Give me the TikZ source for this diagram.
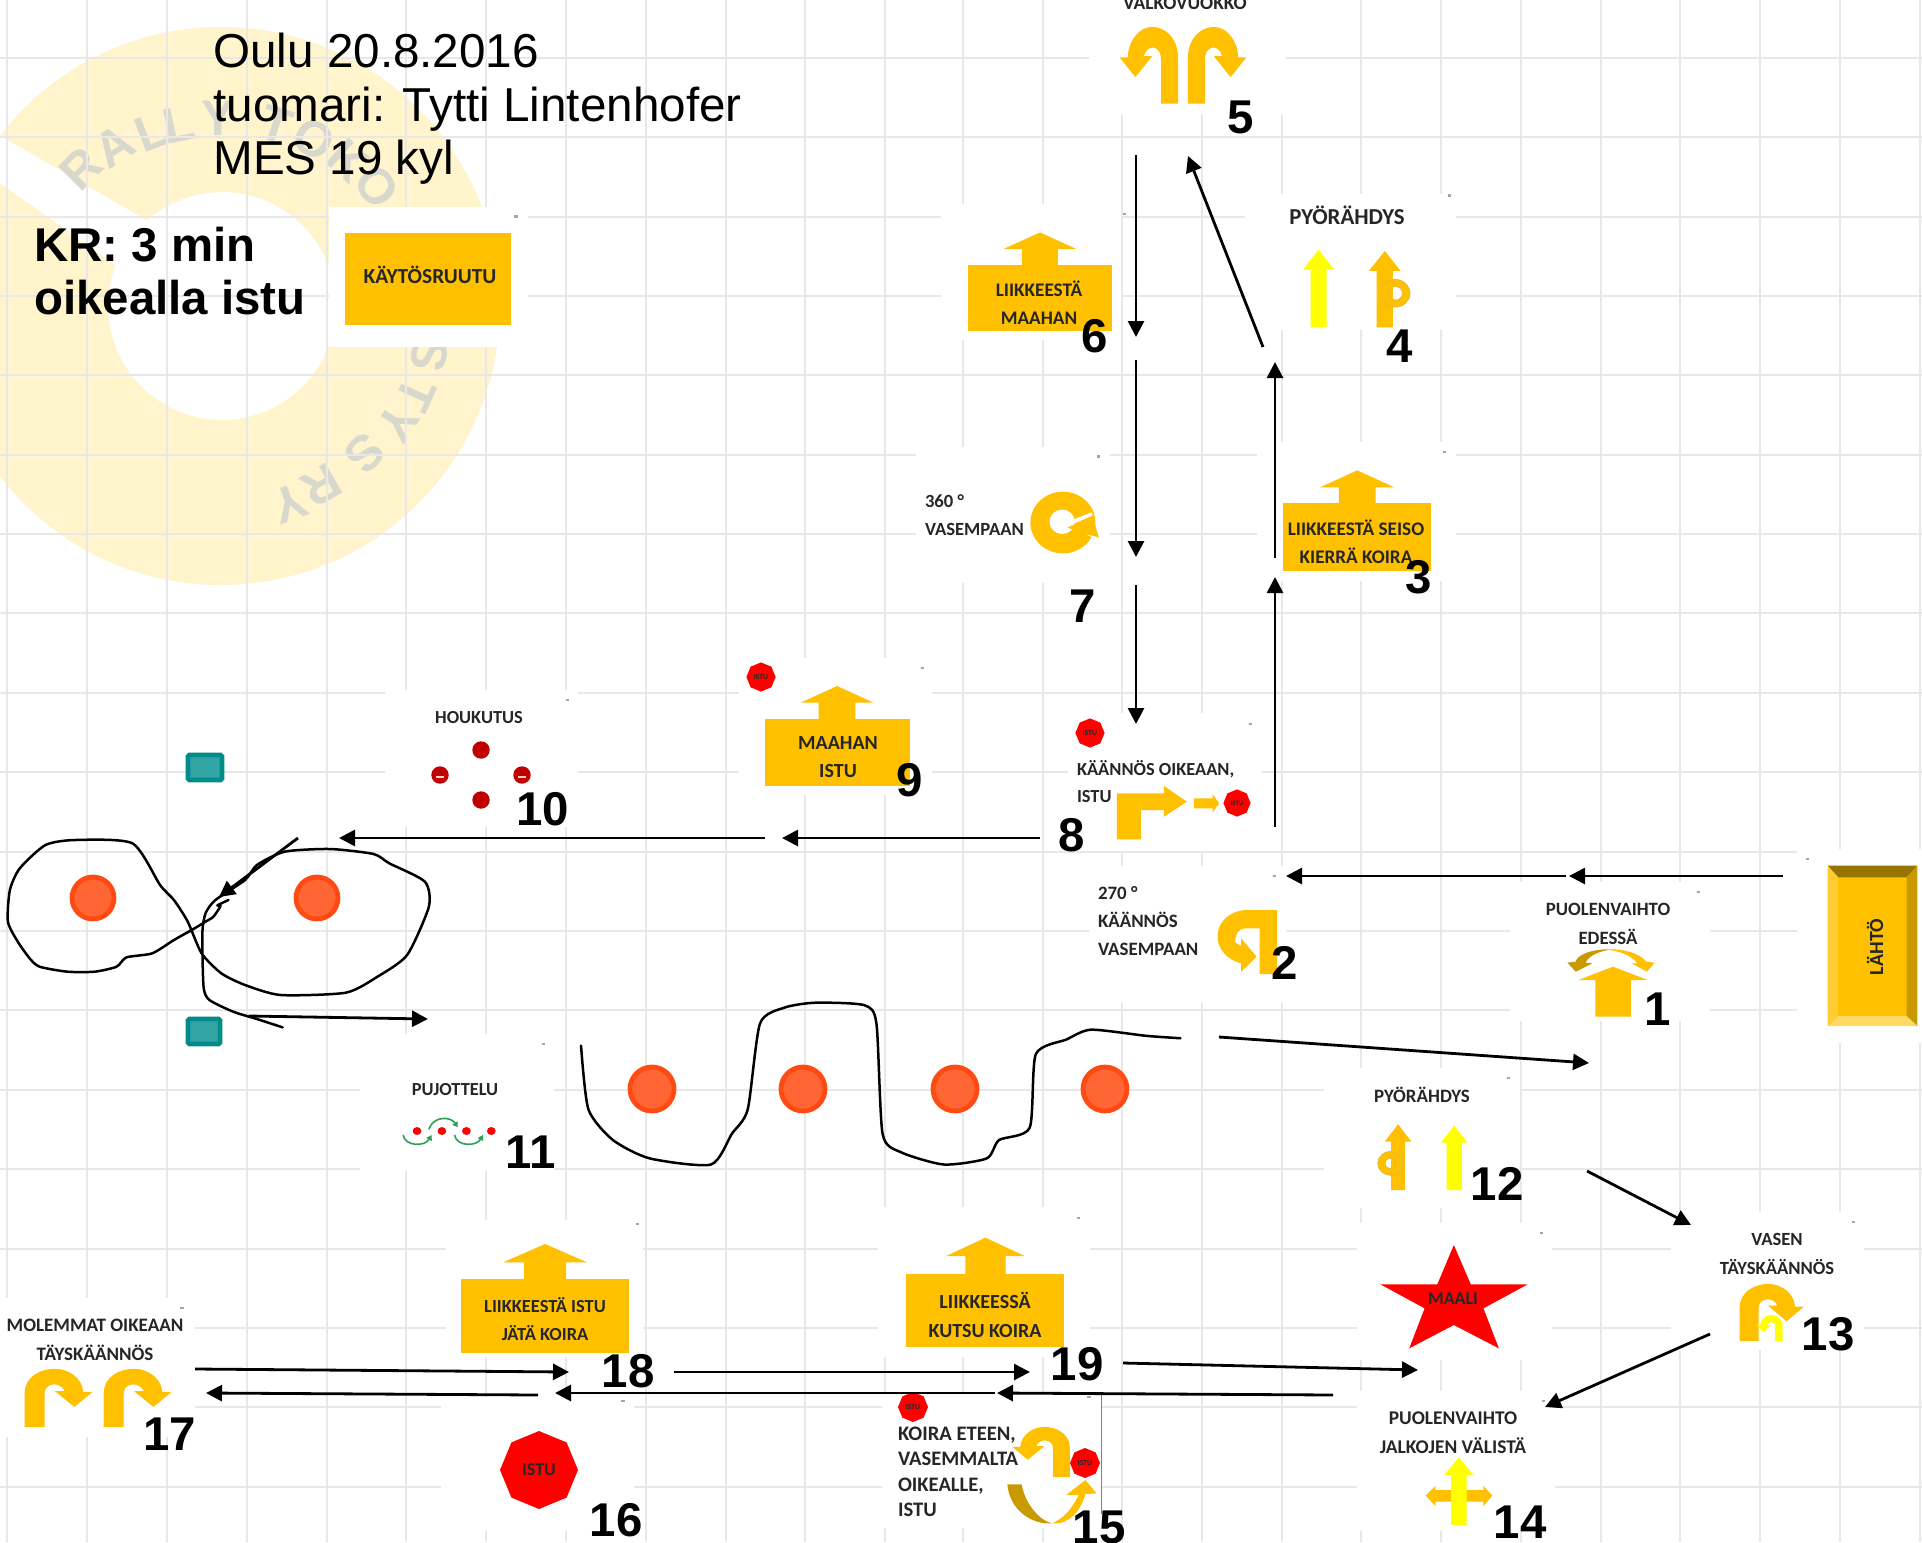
\documentclass[tikz,border=0pt]{standalone}
\usepackage{fontspec}
\setmainfont{Liberation Sans}
\newfontfamily\carlito{Carlito}
\usetikzlibrary{arrows.meta,shapes.geometric}
\definecolor{gold}{HTML}{FFC000}
\definecolor{darkgold}{HTML}{C99A00}
\definecolor{signyellow}{HTML}{FFFF00}
\definecolor{logoyellow}{HTML}{FFF4CC}
\definecolor{logoletter}{HTML}{D8D8CC}
\definecolor{gridgray}{HTML}{E8E8E8}
\definecolor{signtext}{HTML}{262626}
\definecolor{conefill}{HTML}{FF6633}
\definecolor{coneedge}{HTML}{FF4A14}
\definecolor{tealfill}{HTML}{33A5A5}
\definecolor{tealedge}{HTML}{008B8B}
\definecolor{dotred}{HTML}{C00000}
\definecolor{weavegreen}{HTML}{2E9E5B}
\newcommand{\sgf}[2]{\carlito\bfseries\fontsize{#1}{#2}\selectfont}
\tikzset{
  zA/.style={x=0.25510pt,y=-0.19763pt},
  zB/.style={x=0.19135pt,y=-0.19763pt,shift={(440pt,0pt)}},
  zC/.style={x=0.19135pt,y=-0.16667pt,shift={(360pt,-310pt)}},
  zD/.style={x=0.19231pt,y=-0.16667pt,shift={(660pt,-410pt)}},
  zE/.style={x=0.19763pt,y=-0.16667pt,shift={(0pt,-350pt)}},
  zF/.style={x=0.22321pt,y=-0.16667pt,shift={(430pt,-600pt)}},
  zG/.style={x=0.22321pt,y=-0.16667pt,shift={(0pt,-600pt)}},
  zH/.style={x=0.19231pt,y=-0.16667pt,shift={(660pt,-600pt)}},
  panel/.style={fill=white,draw=none},
  lbl/.style={text=signtext,inner sep=0pt,outer sep=0pt,align=center},
  lblleft/.style={text=signtext,inner sep=0pt,outer sep=0pt,align=left,anchor=west},
  numlbl/.style={font=\bfseries\fontsize{23.7}{26}\selectfont,text=black,inner sep=0pt,outer sep=0pt},
  stopsign/.style={regular polygon,regular polygon sides=8,shape border rotate=22.5,fill=red,draw=none,
     inner sep=0pt,outer sep=0pt,text=signtext,align=center},
  conn/.style={line width=1.4pt,draw=black,-{Triangle[length=8pt,width=8pt]}},
  hand/.style={line width=1.25pt,draw=black,line join=round,line cap=round},
  cone/.style={circle,fill=conefill,draw=coneedge,line width=2.4pt,minimum size=21pt,inner sep=0pt},
  tealmark/.style={fill=tealfill,draw=tealedge,line width=2.4pt,rounded corners=0.8pt},
  ringshape/.style={fill=gold,draw=darkgold!70,line width=0.3pt,even odd rule},
}
% connector between two named free ends
\newcommand{\conn}[5]{\coordinate (#1s) at (#2,#3); \coordinate (#1e) at (#4,#5); \draw[conn] (#1s) -- (#1e);}
% up arrow: cx, bottom, apex, headbase, halfstem, halfhead, colour
\newcommand{\UpArr}[7]{\fill[#7] ({#1-#5},#2) -- ({#1+#5},#2) -- ({#1+#5},#4) -- ({#1+#6},#4) -- (#1,#3) -- ({#1-#6},#4) -- ({#1-#5},#4) -- cycle;}
% U-turn arrow: base x, base y, x-unit, y-unit, colour
\newcommand{\UTurn}[5]{\begin{scope}[shift={(#1,#2)},x=#3pt,y=#4pt]
 \fill[#5] (45,0) -- (45,112) .. controls (45,167) and (10,194) .. (-23,194) .. controls (-55,194) and (-85,162) .. (-87,117)
 -- (-108,117) -- (-67,67) -- (-23,120) -- (-45,120) .. controls (-40,137) and (-30,142) .. (-20,142) .. controls (-5,140) and (0,125) .. (0,112) -- (0,0) -- cycle;
 \end{scope}}
\newcommand{\tick}[2]{\fill[gray!70] ({#1-4},{#2-3}) rectangle ({#1+4},{#2+3});}
\begin{document}
\begin{tikzpicture}[x=0.5pt,y=-0.5pt]
\path[use as bounding box] (0,0) rectangle (1922,1542);
\clip (0,0) rectangle (1922,1542);
\fill[white] (0,0) rectangle (1922,1542);
% ---- logo watermark
\fill[logoyellow,even odd rule] (221,306) circle[radius=279] (222,306) circle[radius=114];
\fill[white] (-10,130) -- (172,235) -- (125,272) -- (-10,176) -- cycle;
\foreach \ch/\la/\nm/\lr in {R/135/a/194,A/123/b/190,L/111/c/186,L/102/d/186,Y/90/e/188,T/72/f/190,O/60/g/192,K/48/h/195,O/37/i/199,S/-13/j/217,T/-24/k/217,Y/-33/l/215,S/-45/m/208,R/-60/n/207,Y/-70/o/210}
  \node[name=logo\nm,font=\bfseries\fontsize{25}{27}\selectfont,text=logoletter,inner sep=0pt,rotate=\la-90]
     at ({218+\lr*cos(\la)},{306-\lr*sin(\la)}) {\ch};
% ---- grid
\foreach \gx in {7,87,167,247,327,406,486,566,646,726,805,885,963,1043,1122,1202,1282,1361,1441,1521,1601,1680,1760,1840,1920}
  \draw[gridgray,line width=1.3pt] (\gx,0) -- (\gx,1542);
\foreach \gy in {58,137,217,296,375,455,534,613,693,772,852,931,1010,1090,1169,1249,1328,1407,1487}
  \draw[gridgray,line width=1.3pt] (0,\gy) -- (1922,\gy);
% ---- white panels
\foreach \xa/\ya/\xb/\yb in {329/207/528/347,1089/0/1286/115,941/204/1121/340,1245/194/1456/330,1257/442/1456/581,
   916/447/1110/583,1068/713/1262/851,1089/866/1286/1003,739/658/932/795,385/690/578/827,360/1034/554/1171,
   1510/882/1710/1021,1797/849/1922/1043,1324/1068/1520/1208,1671/1212/1864/1350,1357/1223/1552/1360,
   1357/1391/1555/1531,878/1207/1090/1357,882/1392/1101/1528,446/1220/643/1357,441/1397/634/1531,0/1298/195/1437}
  \fill[panel] (\xa,\ya) rectangle (\xb,\yb);
\draw[gray,line width=0.3pt] (1101,1392) -- (1101,1514);
% ---- title texts
\node[anchor=north west,inner sep=0pt,align=left,font=\fontsize{23.8}{26.75}\selectfont] (title) at (213,33)
   {Oulu 20.8.2016\\tuomari: Tytti Lintenhofer\\MES 19 kyl};
\node[anchor=north west,inner sep=0pt,align=left,font=\bfseries\fontsize{23.7}{26.5}\selectfont] (kr) at (34,227)
   {KR: 3 min\\oikealla istu};
% ---- KAYTOSRUUTU
\fill[gold] (345,233) rectangle (511,325);
\node[lbl,font=\sgf{10.7}{13}] (kaytos) at (430,275) {KÄYTÖSRUUTU};
\fill[gray!70] (514,215) rectangle (518,218);
% ---- sign 5
\node[lbl,font=\sgf{9.7}{12}] (s5t) at (1185,3) {VALKOVUOKKO};
\UTurn{1161}{103.6}{0.19135}{0.19763}{gold}
\UTurn{1205}{103.6}{-0.19135}{0.19763}{gold}
% ---- scope B signs: 6,4,3,7
\begin{scope}[zB]
 \UpArr{418}{670}{588}{630}{47}{95}{gold}
 \fill[gold] (230,670) rectangle (606,838);
 \UpArr{1146}{828}{632}{682}{21}{41}{signyellow}
 \UpArr{1319}{828}{635}{685}{21}{41}{gold}
 \path[ringshape] (1347,742) ellipse[x radius=38,y radius=35] (1347,742) ellipse[x radius=18,y radius=17];
 \UpArr{1247}{1273}{1190}{1233}{48}{97}{gold}
 \fill[gold] (1053,1273) rectangle (1440,1445);
 % 360 ring
 \fill[gold] (478,1322) ellipse[x radius=85,y radius=78];
 \fill[white] (476,1320) ellipse[x radius=33,y radius=31];
 \fill[white] (485,1322) -- (553,1296) -- (556,1304) -- (490,1332) -- cycle;
 \fill[white] (540,1352) -- (572,1360) -- (560,1300) -- (575,1300) -- (585,1375) -- cycle;
 \fill[gold] (490,1335) -- (555,1305) -- (572,1360) -- cycle;
 \tick{640}{541}\tick{1488}{495}\tick{1475}{1143}\tick{570}{1155}
\end{scope}
\node[lbl,font=\sgf{9.6}{14}] (s6t) at (1039,303) {LIIKKEESTÄ\\MAAHAN};
\node[lbl,font=\sgf{11.4}{13}] (s4t) at (1347,215) {PYÖRÄHDYS};
\node[lbl,font=\sgf{9.6}{14}] (s3t) at (1356,542) {LIIKKEESTÄ SEISO\\KIERRÄ KOIRA};
\node[lblleft,font=\sgf{9.3}{14}] (s7t) at (925,515) {360 °\\VASEMPAAN};
% ---- scope C signs: 9,8,2
\begin{scope}[zC]
 \UpArr{306}{297}{198}{248}{48}{95}{gold}
 \fill[gold] (117,297) rectangle (497,497);
 \fill[gold] (1037,658) -- (1037,520) -- (1160,520) -- (1160,498) -- (1220,545) -- (1160,590) -- (1160,570) -- (1100,570) -- (1100,658) -- cycle;
 \fill[gold] (1238,535) -- (1287,535) -- (1287,522) -- (1304,550) -- (1287,578) -- (1287,565) -- (1238,565) -- cycle;
 \fill[gold] (1456,870) -- (1456,1062) -- (1410,1062) -- (1410,925) -- (1375,925) .. controls (1352,925) and (1345,945) .. (1347,968)
    -- (1362,978) -- (1362,955) -- (1402,1010) -- (1362,1055) -- (1362,1030) .. controls (1325,1020) and (1300,985) .. (1300,950)
    .. controls (1300,900) and (1340,870) .. (1375,870) -- cycle;
 \tick{528}{145}\tick{1385}{312}\tick{1450}{768}
\end{scope}
\node[stopsign,minimum size=14.6pt,font=\sgf{3.8}{4}] (stop9) at (761,677) {ISTU};
\node[stopsign,minimum size=14.6pt,font=\sgf{3.8}{4}] (stop8a) at (1090,733) {ISTU};
\node[stopsign,minimum size=13.6pt,font=\sgf{3.4}{4}] (stop8b) at (1237,803) {ISTU};
\node[lbl,font=\sgf{10}{14}] (s9t) at (838,757) {MAAHAN\\ISTU};
\node[lblleft,font=\sgf{9.2}{13.5}] (s8t) at (1077,782) {KÄÄNNÖS OIKEAAN,\\ISTU};
\node[lblleft,font=\sgf{9.45}{14}] (s2t) at (1098,921) {270 °\\KÄÄNNÖS\\VASEMPAAN};
% ---- scope D signs: 1, LAHTO, 12
\begin{scope}[zD]
 \UpArr{762}{590}{440}{480}{46}{90}{gold}
 \fill[darkgold] (760,388) .. controls (700,385) and (665,410) .. (665,425) -- (643,428) -- (665,455) -- (708,430) -- (690,428) .. controls (700,405) and (730,392) .. (760,388) -- cycle;
 \fill[gold] (740,388) .. controls (800,385) and (835,405) .. (848,425) -- (870,428) -- (850,455) -- (810,430) -- (825,430) .. controls (810,405) and (775,392) .. (740,388) -- cycle;
 % LAHTO bevelled plate
 \fill[gold] (1320,137) rectangle (1553,618);
 \fill[darkgold!75!black] (1320,137) -- (1553,137) -- (1525,172) -- (1347,172) -- cycle;
 \fill[darkgold] (1553,137) -- (1553,618) -- (1525,588) -- (1525,172) -- cycle;
 \fill[gold!60!white] (1320,618) -- (1553,618) -- (1525,588) -- (1347,588) -- cycle;
 \fill[gold!80!white] (1320,137) -- (1347,172) -- (1347,588) -- (1320,618) -- cycle;
 \UpArr{203}{1110}{913}{965}{18}{35}{gold}
 \path[ringshape] (183,1030) ellipse[x radius=33,y radius=36] (183,1030) ellipse[x radius=14,y radius=16];
 \UpArr{349}{1110}{917}{968}{20}{35}{signyellow}
 \tick{985}{217}\tick{490}{775}\tick{1267}{118}
\end{scope}
\node[lbl,font=\sgf{9.4}{14.4}] (s1t) at (1608,924) {PUOLENVAIHTO\\EDESSÄ};
\node[lbl,font=\sgf{10}{12},rotate=90] (lahto) at (1875,947) {LÄHTÖ};
\node[lbl,font=\sgf{9.45}{12}] (s12t) at (1422,1095) {PYÖRÄHDYS};
% ---- scope E: cones, markers, signs 10, 11
\node[cone] (cone1) at (93,898) {};
\node[cone] (cone2) at (317,898) {};
\foreach \cx/\cn in {652/a,803/b,955/c,1105/d}
  \node[cone,minimum size=22pt,name=slalom\cn] at (\cx,1089) {};
\fill[tealmark] (188,755) rectangle (222,780);
\fill[tealmark] (188,1019) rectangle (220,1044);
\foreach \dx/\dy in {481/750,481/800,440/775,522/775}
  \fill[dotred] (\dx,\dy) circle[radius=8.7];
\fill[white!80!red] (436,776) rectangle (444,778);
\fill[white!80!red] (518,776) rectangle (526,778);
\node[lbl,font=\sgf{9.2}{12}] (s10t) at (479,718) {HOUKUTUS};
\node[lbl,font=\sgf{9.2}{12}] (s11t) at (455,1090) {PUJOTTELU};
\begin{scope}[zE]
 \foreach \rx in {1055,1118,1180,1243} \fill[red] (\rx,1293) ellipse[x radius=11,y radius=12];
 \draw[weavegreen,line width=0.8pt,-{Triangle[length=2.6pt,width=3pt]}] (1020,1305) .. controls (1025,1340) and (1075,1340) .. (1092,1305);
 \draw[weavegreen,line width=0.8pt,-{Triangle[length=2.6pt,width=3pt]}] (1085,1288) .. controls (1095,1248) and (1140,1248) .. (1158,1282);
 \draw[weavegreen,line width=0.8pt,-{Triangle[length=2.6pt,width=3pt]}] (1150,1305) .. controls (1155,1340) and (1205,1340) .. (1222,1305);
 \tick{1375}{1033}\tick{1435}{0}
 % freehand figure of eight
 \draw[hand] plot[smooth,tension=0.4] coordinates {(578,600) (550,616) (558,618) (540,650) (520,665) (485,690) (440,720) (385,760) (320,772) (295,800) (240,815) (170,815) (100,800) (75,775) (45,725) (20,665) (25,570) (50,505) (115,435) (190,420) (335,430) (405,555) (440,600) (475,665) (510,760) (560,820) (620,855) (710,885) (875,878) (955,830) (1030,765) (1085,620) (1075,545) (985,490) (945,462) (835,447) (720,455) (650,495) (620,540) (545,600) (520,640) (512,700) (515,860) (530,900) (590,935) (650,957) (715,982)};
\end{scope}
% freehand slalom
\begin{scope}[x=0.6129pt,y=-0.6129pt]
 \draw[hand] plot[smooth,tension=0.4] coordinates {(474,853) (480,905) (500,930) (530,945) (580,950) (597,925) (610,905) (620,835) (640,822) (665,818) (705,820) (715,835) (720,925) (735,940) (770,950) (805,945) (815,930) (840,920) (845,860) (870,848) (890,840) (935,845) (963,847)};
\end{scope}
% ---- scope F: 19, 15
\begin{scope}[zF]
 \UpArr{281}{222}{113}{168}{45}{88}{gold}
 \fill[gold] (104,222) rectangle (458,440);
 \fill[darkgold] (330,853) -- (362,853) .. controls (370,910) and (400,960) .. (430,970) .. controls (385,975) and (335,930) .. (330,853) -- cycle;
 \fill[gold] (430,970) .. controls (465,950) and (480,910) .. (490,885) -- (462,885) -- (505,840) -- (530,880) -- (505,882) .. controls (495,930) and (470,975) .. (430,970) -- cycle;
 \tick{489}{53}\tick{513}{592}
\end{scope}
\UTurn{1053}{1477}{0.188}{0.129}{gold}
\node[stopsign,minimum size=15pt,font=\sgf{3.8}{4}] (stop15a) at (913,1407) {ISTU};
\node[stopsign,minimum size=15pt,font=\sgf{3.8}{4}] (stop15b) at (1085,1463) {ISTU};
\node[lbl,font=\sgf{10}{14.5}] (s19t) at (985,1315) {LIIKKEESSÄ\\KUTSU KOIRA};
\node[lblleft,font=\sgf{10.3}{12.7}] (s15t) at (898,1472) {KOIRA ETEEN,\\VASEMMALTA\\OIKEALLE,\\ISTU};
% ---- scope G: 18, 16, 17
\begin{scope}[zG]
 \UpArr{1221}{238}{132}{187}{47}{94}{gold}
 \fill[gold] (1033,238) rectangle (1408,458);
 \tick{1428}{72}\tick{408}{325}\tick{1396}{603}
\end{scope}
\UTurn{44.6}{1427}{-0.222}{0.15}{gold}
\UTurn{123.7}{1427}{-0.222}{0.15}{gold}
\node[stopsign,minimum size=39pt,font=\sgf{9}{10}] (stop16) at (539,1470) {ISTU};
\node[lbl,font=\sgf{9.2}{14}] (s18t) at (545,1319) {LIIKKEESTÄ ISTU\\JÄTÄ KOIRA};
\node[lbl,font=\sgf{9.5}{14.4}] (s17t) at (95,1340) {MOLEMMAT OIKEAAN\\TÄYSKÄÄNNÖS};
% ---- scope H: maali, 14, 13
\begin{scope}[zH]
 \fill[red] (348,135) -- (392,253) -- (540,253) -- (425,325) -- (465,445) -- (348,375) -- (232,445) -- (272,325) -- (157,253) -- (305,253) -- cycle;
 \fill[gold] (275,887) -- (300,858) -- (300,870) -- (425,870) -- (425,858) -- (448,887) -- (425,918) -- (425,905) -- (300,905) -- (300,918) -- cycle;
 \UpArr{361}{975}{772}{825}{20}{38}{signyellow}
 \tick{575}{100}\tick{580}{603}\tick{1388}{66}
\end{scope}
\UTurn{1758.5}{1341}{-0.21}{0.147}{gold}
\UTurn{1775}{1341}{0.0855}{0.067}{signyellow}
\node[lbl,font=\sgf{9}{12}] (maali) at (1453,1299) {MAALI};
\node[lbl,font=\sgf{9.7}{14.5}] (s14t) at (1453,1433) {PUOLENVAIHTO\\JALKOJEN VÄLISTÄ};
\node[lbl,font=\sgf{9.3}{14.2}] (s13t) at (1777,1254) {VASEN\\TÄYSKÄÄNNÖS};
% ---- connectors
\conn{ca}{1783}{876}{1569}{876}
\conn{cb}{1566}{876}{1286}{876}
\conn{cc}{1275}{827}{1275}{577}
\conn{cd}{1275}{558}{1275}{362}
\conn{ce}{1263}{347}{1188}{156}
\conn{cf}{1136}{155}{1136}{337}
\conn{cg}{1136}{360}{1136}{557}
\conn{ch}{1136}{585}{1136}{724}
\conn{ci}{1040}{838}{782}{838}
\conn{cj}{765}{838}{339}{838}
\conn{ck}{298}{838}{219}{897}
\conn{cl}{249}{1016}{428}{1019}
\conn{cm}{1219}{1037}{1589}{1063}
\conn{cn}{1587}{1171}{1691}{1225}
\conn{co}{1710}{1334}{1545}{1407}
\conn{cp}{1333}{1395}{997}{1393}
\conn{cq}{995}{1393}{555}{1393}
\conn{cr}{538}{1395}{206}{1393}
\conn{cs}{195}{1369}{569}{1372}
\conn{ct}{674}{1372}{1030}{1372}
\conn{cu}{1123}{1363}{1418}{1370}
% ---- numbers
\foreach \nx/\ny/\nt in {1658/1009/1,1285/963/2,1419/577/3,1400/346/4,1241/117/5,1095/336/6,1083/606/7,1072/835/8,910/780/9,543/809/10,531/1152/11,1497/1184/12,1828/1334/13,1520/1522/14,1099/1527/15,616/1520/16,170/1434/17,628/1371/18,1077/1364/19}
  \node[numlbl,name=num\nt] at (\nx,\ny) {\nt};
\end{tikzpicture}
\end{document}
